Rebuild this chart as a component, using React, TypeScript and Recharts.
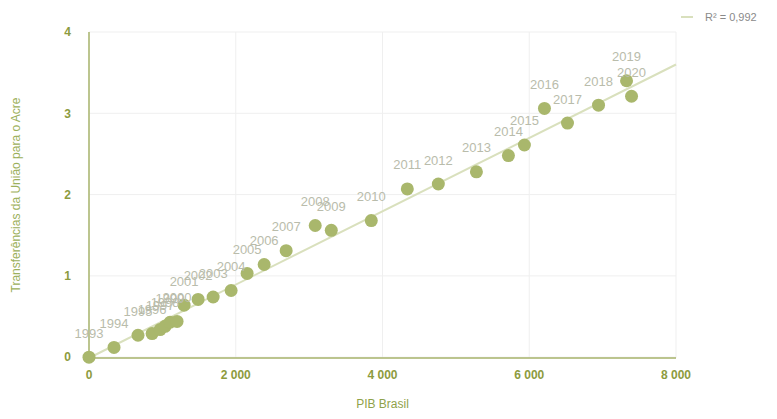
import { Scatter, ScatterChart, XAxis, YAxis, CartesianGrid, LabelList, Label } from "recharts"

const years = [
  1993, 1994, 1995, 1996, 1997, 1998, 1999, 2000, 2001, 2002, 2003, 2004, 2005, 2006,
  2007, 2008, 2009, 2010, 2011, 2012, 2013, 2014, 2015, 2016, 2017, 2018, 2019, 2020,
]
const pibBrasil = [
  0, 341, 668, 860, 969, 1037, 1105, 1200, 1296, 1487, 1692, 1937, 2155, 2387,
  2687, 3083, 3302, 3847, 4338, 4761, 5280, 5716, 5934, 6207, 6521, 6944, 7326, 7394,
]
const transferencias = [
  0, 0.12, 0.27, 0.29, 0.34, 0.38, 0.43, 0.44, 0.64, 0.71, 0.74, 0.82, 1.03, 1.14,
  1.31, 1.62, 1.56, 1.68, 2.07, 2.13, 2.28, 2.48, 2.61, 3.06, 2.88, 3.1, 3.4, 3.21,
]
const trendX = [0, 8000]
const trendY = [-0.01, 3.6]
const xTicks = [0, 2000, 4000, 6000, 8000]
const yTicks = [0, 1, 2, 3, 4]

const points = years.map((year, i) => ({ year, x: pibBrasil[i], y: transferencias[i] }))
const trend = trendX.map((x, i) => ({ x, y: trendY[i] }))

const tickColor = "#8d9b3e"
const axisColor = "#a9b56c"
const pointColor = "#a9b76c"
const trendColor = "#d9e0bd"
const font = "'Liberation Sans', Arial, sans-serif"

const fmt = (v: number) => v.toString().replace(/\B(?=(\d{3})+(?!\d))/g, " ")

export default function App() {
  return (
    <div style={{ position: "absolute", left: 0, top: 0, width: 777, height: 419, background: "#fff" }}>
      <ScatterChart width={777} height={419} margin={{ top: 32, right: 101, bottom: 11, left: 0 }}>
        <CartesianGrid stroke="#efefef" strokeWidth={1} />
        <XAxis
          type="number"
          dataKey="x"
          domain={[0, 8000]}
          ticks={xTicks}
          tickFormatter={fmt}
          height={50}
          stroke={axisColor}
          strokeWidth={1.5}
          tickLine={false}
          tick={{ fill: tickColor, fontSize: 12, fontWeight: 700, fontFamily: font }}
          tickMargin={6}
        >
          <Label value="PIB Brasil" position="insideBottom" offset={0} fill="#8fa24a" fontSize={12} fontFamily={font} />
        </XAxis>
        <YAxis
          type="number"
          dataKey="y"
          domain={[0, 4]}
          ticks={yTicks}
          width={89}
          stroke={axisColor}
          strokeWidth={1.5}
          tickLine={false}
          tick={{ fill: tickColor, fontSize: 12, fontWeight: 700, fontFamily: font }}
          tickMargin={12}
        >
          <Label
            value="Transferências da União para o Acre"
            angle={-90}
            position="insideLeft"
            offset={16}
            fill="#9cb05a"
            fontSize={12}
            fontFamily={font}
            style={{ textAnchor: "middle" }}
          />
        </YAxis>
        <Scatter
          data={trend}
          line={{ stroke: trendColor, strokeWidth: 2 }}
          shape={() => <g />}
          isAnimationActive={false}
          legendType="none"
        />
        <Scatter
          data={points}
          fill={pointColor}
          isAnimationActive={false}
          shape={(p: any) => <circle cx={p.cx} cy={p.cy} r={6.5} fill={pointColor} />}
        >
          <LabelList dataKey="year" position="top" offset={15} fill="#b9bcab" fontSize={13} fontFamily={font} />
        </Scatter>
      </ScatterChart>
      <div
        style={{
          position: "absolute",
          top: 11,
          left: 681,
          display: "flex",
          alignItems: "center",
          fontFamily: font,
          fontSize: 11,
          color: "#8a8a8a",
          whiteSpace: "nowrap",
        }}
      >
        <span style={{ display: "inline-block", width: 12, height: 2, background: trendColor, marginRight: 12 }} />
        <span>R² = 0,992</span>
      </div>
    </div>
  )
}
